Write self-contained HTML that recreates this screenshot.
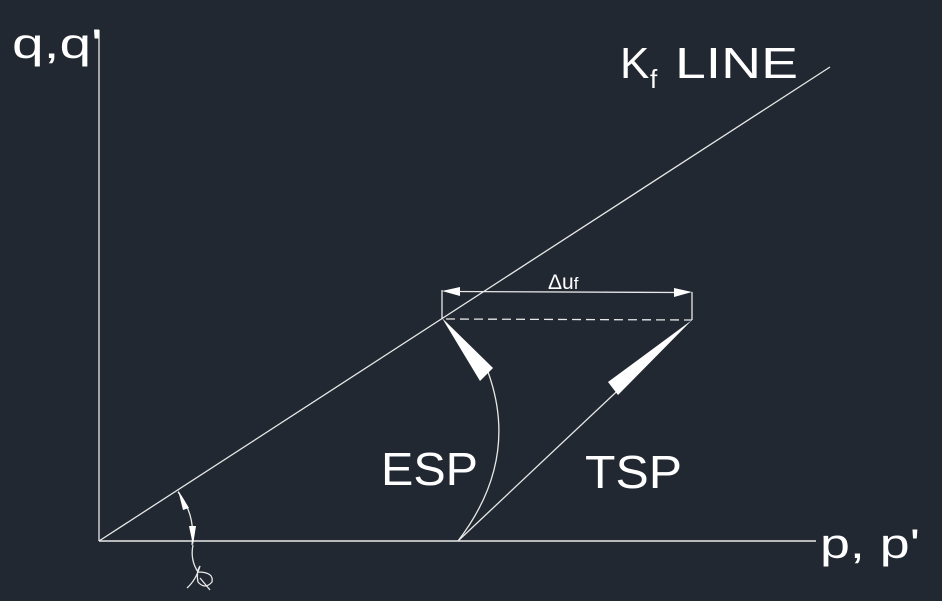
<!DOCTYPE html>
<html><head><meta charset="utf-8"><style>
html,body{margin:0;padding:0;background:#222831;}
svg{display:block}
text{font-family:"Liberation Sans",sans-serif;fill:#fff}
</style></head><body>
<svg width="942" height="601" viewBox="0 0 942 601">
<rect width="942" height="601" fill="#222831"/>
<g stroke="#e8e8e8" stroke-width="1.3" fill="none">
<line x1="99" y1="30" x2="99" y2="541"/>
<line x1="99" y1="541" x2="816" y2="541" stroke-width="1.6"/>
<line x1="99" y1="541" x2="830" y2="67"/>
<line x1="442" y1="290" x2="442" y2="319"/>
<line x1="692" y1="292" x2="692" y2="320"/>
<line x1="450" y1="291.5" x2="684" y2="292.5"/>
<line x1="446" y1="319" x2="692" y2="320" stroke-dasharray="9,5"/>
<path d="M458,541 Q520,460 488,372"/>
<line x1="458" y1="541" x2="630" y2="379"/>
<path d="M178,492 Q196,515 192,545"/>
<path d="M193,545 Q190,560 198,572 Q214,572 212,582 Q205,590 198,582 Q196,572 200,566 Q196,580 187,588"/>
<path d="M200,578 L210,590"/>
</g>
<g fill="#fff">
<polygon points="442,291 460,287 460,296"/>
<polygon points="692,292 674,288 674,297"/>
<polygon points="442,318 493,368 480,381"/>
<polygon points="692,320 618,395 608,382"/>
<polygon points="178,490 189,508 183,510"/>
<polygon points="193,545 189,526 196,526"/>
</g>
<text x="12" y="58" font-size="42" textLength="90" lengthAdjust="spacingAndGlyphs">q,q'</text>
<text x="620" y="78" font-size="44">K</text>
<text x="650" y="88" font-size="26">f</text>
<text x="675" y="78" font-size="44" textLength="123" lengthAdjust="spacingAndGlyphs">LINE</text>
<text x="820" y="558" font-size="42" textLength="100" lengthAdjust="spacingAndGlyphs">p, p'</text>
<text x="381" y="485" font-size="46" textLength="97" lengthAdjust="spacingAndGlyphs">ESP</text>
<text x="585" y="488" font-size="46" textLength="97" lengthAdjust="spacingAndGlyphs">TSP</text>
<text x="548" y="289" font-size="21">Δu<tspan font-size="17">f</tspan></text>
</svg>
</body></html>
